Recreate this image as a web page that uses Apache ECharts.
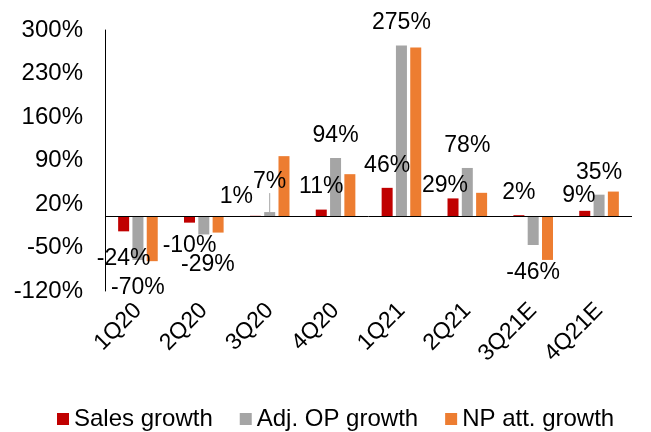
<!DOCTYPE html>
<html>
<head>
<meta charset="utf-8">
<script src="https://cdn.jsdelivr.net/npm/echarts@6/dist/echarts.min.js"></script>
<style>
  html, body { margin: 0; padding: 0; background: #fff; }
  #chart { width: 651px; height: 432px; }
</style>
</head>
<body>
<div id="chart"></div>
<script>
const quarters = ['1Q20', '2Q20', '3Q20', '4Q20', '1Q21', '2Q21', '3Q21E', '4Q21E']
const salesGrowth = [-24, -10, 1, 11, 46, 29, 2, 9]
const adjOpGrowth = [-70, -29, 7, 94, 275, 78, -46, 35]
const npAttGrowth = [-72, -26, 97, 68, 272, 38, -70, 40]

const font = 'Liberation Sans, Arial, sans-serif'

// labels sit above positive bars and below negative ones
const withLabels = (values, leaderAt) => values.map((v, i) => ({
  value: v,
  label: v < 0 ? { position: 'bottom', distance: 16 } : { position: 'top', distance: 11 },
  labelLine: { show: i === leaderAt }
}))

// a few labels were nudged by hand in the original
const nudge = (moves) => (p) => {
  const m = moves[p.dataIndex]
  return m ? { dx: m[0], dy: m[1] } : {}
}

const labelStyle = {
  show: true,
  fontFamily: font,
  fontSize: 23,
  color: '#000',
  formatter: (p) => p.value + '%'
}

const chart = echarts.init(document.getElementById('chart'))

chart.setOption({
  animation: false,
  grid: { left: 105, right: 19, top: 30, bottom: 141 },
  legend: {
    bottom: -4,
    left: 52,
    itemWidth: 12,
    itemHeight: 12,
    itemGap: 27,
    icon: 'rect',
    textStyle: { fontFamily: font, fontSize: 24, color: '#000' },
    data: ['Sales growth', 'Adj. OP growth', 'NP att. growth']
  },
  xAxis: {
    type: 'category',
    data: quarters,
    axisLine: { show: false },
    axisTick: { show: false },
    axisLabel: {
      rotate: 45,
      margin: 16,
      fontFamily: font,
      fontSize: 23,
      color: '#000'
    }
  },
  yAxis: {
    type: 'value',
    min: -120,
    max: 300,
    interval: 70,
    axisLine: { show: true, lineStyle: { color: '#000', width: 1 } },
    axisTick: { show: false },
    splitLine: { show: false },
    axisLabel: {
      margin: 22,
      fontFamily: font,
      fontSize: 24,
      color: '#000',
      formatter: '{value}%'
    }
  },
  series: [
    {
      name: 'Sales growth',
      type: 'bar',
      barWidth: 11,
      barGap: '30%',
      itemStyle: { color: '#C00000' },
      label: labelStyle,
      labelLayout: nudge({ 1: [0, -4], 2: [-19, 3], 5: [-8, 10], 7: [-6, 7] }),
      data: withLabels(salesGrowth, -1),
      markLine: {
        silent: true,
        symbol: 'none',
        label: { show: false },
        lineStyle: { color: '#000', width: 1, type: 'solid' },
        data: [{ yAxis: 0 }]
      }
    },
    {
      name: 'Adj. OP growth',
      type: 'bar',
      barWidth: 11,
      barGap: '30%',
      itemStyle: { color: '#A5A5A5' },
      label: labelStyle,
      labelLine: { show: false, lineStyle: { color: '#A5A5A5', width: 1 } },
      labelLayout: nudge({ 1: [4, 3], 2: [0, -8] }),
      data: withLabels(adjOpGrowth, 2)
    },
    {
      name: 'NP att. growth',
      type: 'bar',
      barWidth: 11,
      barGap: '30%',
      itemStyle: { color: '#ED7D31' },
      data: npAttGrowth
    }
  ]
})
</script>
</body>
</html>
